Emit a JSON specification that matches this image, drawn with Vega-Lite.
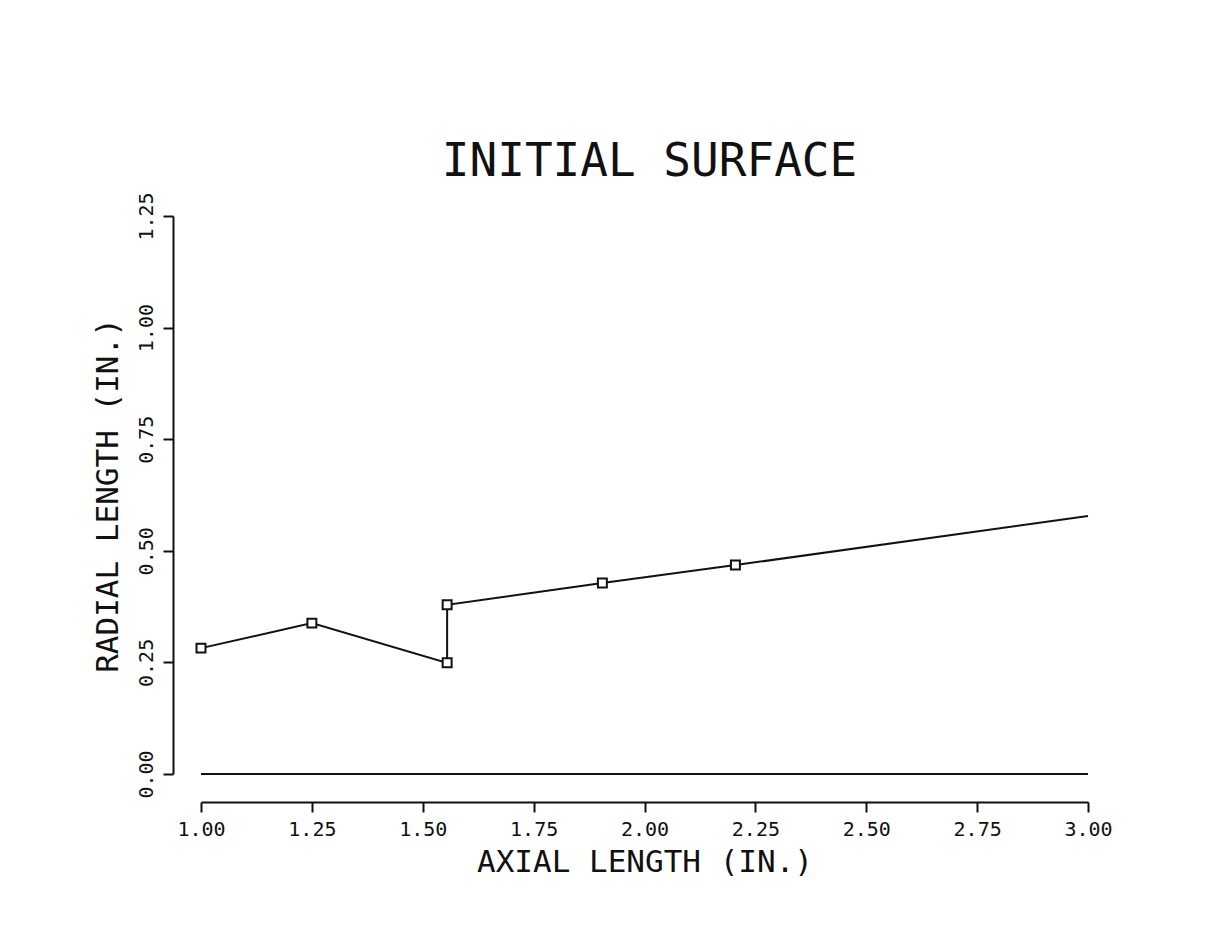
{
  "$schema": "https://vega.github.io/schema/vega-lite/v6.json",
  "autosize": {"type": "none"},
  "padding": {"left": 201, "top": 216, "right": 140, "bottom": 175},
  "width": 887,
  "height": 558,
  "background": "white",
  "title": {
    "text": "INITIAL SURFACE",
    "font": "DejaVu Sans Mono",
    "fontSize": 46,
    "fontWeight": "normal",
    "color": "#111",
    "anchor": "middle",
    "offset": 6,
    "dx": 5
  },
  "data": {
    "values": [
      {"i": 1, "x": 1.0, "y": 0.282, "marker": true},
      {"i": 2, "x": 1.25, "y": 0.338, "marker": true},
      {"i": 3, "x": 1.555, "y": 0.249, "marker": true},
      {"i": 4, "x": 1.555, "y": 0.379, "marker": true},
      {"i": 5, "x": 1.905, "y": 0.428, "marker": true},
      {"i": 6, "x": 2.205, "y": 0.468, "marker": true},
      {"i": 7, "x": 3.0, "y": 0.578, "marker": false}
    ]
  },
  "encoding": {
    "x": {
      "field": "x",
      "type": "quantitative",
      "scale": {"domain": [1, 3], "nice": false, "zero": false},
      "axis": {
        "title": "AXIAL LENGTH (IN.)",
        "values": [1, 1.25, 1.5, 1.75, 2, 2.25, 2.5, 2.75, 3],
        "format": ".2f",
        "offset": 28,
        "grid": false,
        "tickSize": 10,
        "labelFlush": false,
        "labelPadding": 7,
        "titlePadding": 8
      }
    },
    "y": {
      "field": "y",
      "type": "quantitative",
      "scale": {"domain": [0, 1.25], "nice": false},
      "axis": {
        "title": "RADIAL LENGTH (IN.)",
        "values": [0, 0.25, 0.5, 0.75, 1, 1.25],
        "format": ".2f",
        "offset": 28,
        "grid": false,
        "tickSize": 10,
        "labelFlush": false,
        "labelAngle": 270,
        "labelAlign": "center",
        "labelBaseline": "bottom",
        "labelPadding": 7,
        "titlePadding": 12
      }
    }
  },
  "layer": [
    {
      "mark": {"type": "rule", "color": "#111", "strokeWidth": 2},
      "encoding": {"y": {"datum": 0}, "x": {"datum": 1}, "x2": {"datum": 3}}
    },
    {
      "mark": {"type": "line", "color": "#111", "strokeWidth": 2},
      "encoding": {"order": {"field": "i"}}
    },
    {
      "transform": [{"filter": "datum.marker"}],
      "mark": {"type": "point", "shape": "square", "size": 80, "filled": false, "stroke": "#111", "strokeWidth": 2, "fill": "white", "opacity": 1}
    }
  ],
  "config": {
    "view": {"stroke": null},
    "axis": {
      "domainColor": "#111",
      "domainWidth": 2,
      "tickColor": "#111",
      "tickWidth": 2,
      "labelFont": "DejaVu Sans Mono",
      "labelFontSize": 20,
      "labelColor": "#111",
      "titleFont": "DejaVu Sans Mono",
      "titleFontSize": 31,
      "titleFontWeight": "normal",
      "titleColor": "#111"
    }
  }
}
